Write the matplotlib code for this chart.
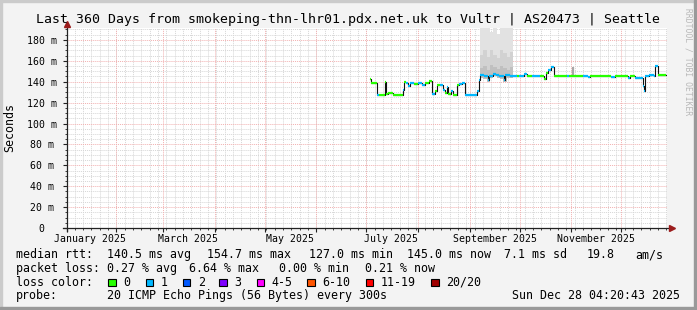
import matplotlib
matplotlib.use("Agg")
import matplotlib.pyplot as plt
import matplotlib.transforms as mtransforms
from matplotlib.patches import Rectangle
import numpy as np
import pandas as pd

W, H = 697, 310
FONT = "DejaVu Sans Mono"

# time window of the graph
start = pd.Timestamp("2025-01-02 04:20:43")
end = pd.Timestamp("2025-12-28 04:20:43")

# median rtt as steps: days since window start, ms, loss bin (0 = 0 lost, 1 = 1 lost)
rtt_day = [182.0, 182.5, 186.2, 187.5, 191.0, 191.6, 193.0, 196.0, 201.6, 202.2,
           203.5, 205.0, 206.0, 208.5, 211.0, 213.0, 215.0, 217.5, 219.4, 220.8,
           222.0, 224.0, 226.0, 227.0, 228.2, 229.0, 230.5, 231.6, 234.0, 235.5,
           237.0, 238.8, 246.4, 247.2, 248.0, 250.5, 252.5, 253.5, 255.5, 257.5,
           259.5, 262.5, 263.2, 266.0, 270.0, 271.5, 274.5, 276.0, 279.0, 282.0,
           284.0, 286.2, 287.3, 288.8, 290.5, 292.3, 300.0, 301.5, 310.0, 312.5,
           314.0, 326.8, 329.0, 336.5, 338.0, 340.8, 345.5, 346.2, 347.0, 349.5,
           352.3, 353.0, 354.5, 359.6]
rtt_ms = [143.0, 138.5, 127.5, 127.5, 140.0, 128.0, 129.0, 127.5, 132.5, 140.0,
          138.5, 135.5, 139.0, 138.0, 139.0, 137.0, 138.5, 141.0, 128.0, 131.0,
          137.0, 136.5, 132.0, 129.0, 135.0, 128.0, 131.0, 127.5, 137.0, 137.5,
          138.5, 127.5, 131.5, 141.5, 146.0, 145.0, 141.5, 145.5, 147.0, 146.0,
          145.0, 141.5, 146.0, 145.5, 145.5, 145.5, 147.0, 145.5, 145.5, 145.0,
          145.5, 143.0, 148.0, 151.0, 154.5, 145.5, 145.5, 145.5, 145.5, 144.5,
          145.5, 144.5, 145.5, 144.0, 145.0, 143.5, 135.5, 131.5, 145.5, 146.5,
          145.5, 155.0, 146.0, 146.0]
rtt_loss = [0, 0, 1, 0, 0, 0, 0, 0, 1, 0,
            1, 1, 1, 0, 1, 1, 0, 0, 1, 0,
            0, 1, 1, 0, 1, 0, 1, 0, 0, 1,
            1, 1, 1, 1, 1, 1, 1, 1, 1, 1,
            1, 1, 1, 1, 0, 1, 1, 0, 1, 1,
            0, 0, 0, 1, 1, 0, 1, 0, 1, 1,
            0, 1, 0, 1, 0, 1, 1, 1, 1, 1,
            1, 1, 0, 0]

# smoke (ping spread) during the noisy weeks in September
smoke_day = [248, 250, 252, 254, 256, 258, 260, 262, 264, 266, 267.5]
smoke_lo = [144, 143, 140, 144, 145, 144, 143, 140, 144, 144]
smoke_dark = [153, 155, 151, 156, 154, 152, 155, 153, 151, 154]
smoke_mid = [166, 170, 164, 170, 166, 163, 170, 167, 164, 168]
smoke_top = [200, 200, 200, 188, 200, 186, 200, 200, 200, 200]

# single smoke spike in October
spike_day = [304.0]
spike_lo = [145.5]
spike_hi = [154.0]

loss_labels = ["0", "1", "2", "3", "4-5", "6-10", "11-19", "20/20"]
loss_colors = ["#26ff00", "#00b8ff", "#0059ff", "#7e00ff", "#ff00ff", "#ff5500", "#ff0000", "#a00000"]

def days(d):
    return start + pd.to_timedelta(np.asarray(d, dtype=float), unit="D")

fig = plt.figure(figsize=(W / 100, H / 100), dpi=100)
fig.patch.set_facecolor("#f3f3f3")

# bevel border
fig.patches.append(Rectangle((0, 1 - 2 / H), 1, 2 / H, transform=fig.transFigure, color="#cbcbcb", zorder=0))
fig.patches.append(Rectangle((0, 0), 2 / W, 1, transform=fig.transFigure, color="#cbcbcb", zorder=0))
fig.patches.append(Rectangle((0, 0), 1, 3 / H, transform=fig.transFigure, color="#999999", zorder=0))
fig.patches.append(Rectangle((1 - 3 / W, 0), 3 / W, 1, transform=fig.transFigure, color="#999999", zorder=0))

x0, x1, ytop, ybot = 66.7, 666.7, 28.0, 228.0
ax = fig.add_axes([x0 / W, 1 - ybot / H, (x1 - x0) / W, (ybot - ytop) / H])
ax.set_facecolor("white")
ymax = (ybot - ytop) / 1.045
ax.set_xlim(start, end)
ax.set_ylim(0, ymax)

# grid
months = pd.date_range("2025-02-01", "2025-12-01", freq="MS")
minor_days = pd.date_range("2025-01-07", end, freq="5D")
for t in minor_days:
    ax.axvline(t, color="#d6d6d6", lw=0.7, ls=(0, (1, 1)), zorder=0)
for v in np.arange(5, ymax, 5):
    if v % 20:
        ax.axhline(v, color="#d6d6d6", lw=0.7, ls=(0, (1, 1)), zorder=0)
for t in months:
    ax.axvline(t, color="#f2b0b0", lw=0.7, ls=(0, (1, 1)), zorder=0.5)
for v in range(20, 200, 20):
    ax.axhline(v, color="#f2b0b0", lw=0.7, ls=(0, (1, 1)), zorder=0.5)

# smoke
sd = days(smoke_day)
ax.fill_between(sd, list(smoke_mid) + [smoke_mid[-1]], list(smoke_top) + [smoke_top[-1]],
                step="post", color="#e2e2e2", lw=0, zorder=1)
ax.fill_between(sd, list(smoke_dark) + [smoke_dark[-1]], list(smoke_mid) + [smoke_mid[-1]],
                step="post", color="#d2d2d2", lw=0, zorder=1)
ax.fill_between(sd, list(smoke_lo) + [smoke_lo[-1]], list(smoke_dark) + [smoke_dark[-1]],
                step="post", color="#c0c0c0", lw=0, zorder=1)
ax.vlines(days(spike_day), spike_lo, spike_hi, color="#a8a8a8", lw=1.6, zorder=1)

# median rtt
rd = days(rtt_day)
ax.step(rd, rtt_ms, where="post", color="#111111", lw=0.8, zorder=2)
ax.hlines(rtt_ms[:-1], rd[:-1], rd[1:], colors=[loss_colors[i] for i in rtt_loss[:-1]],
          lw=1.6, zorder=3)

# axes
for s in ax.spines.values():
    s.set_visible(False)
ax.plot([-0.006, 1.003], [0, 0], transform=ax.transAxes, color="#222222", lw=0.9, clip_on=False, zorder=4)
ax.plot([0, 0], [-0.015, 1.012], transform=ax.transAxes, color="#222222", lw=0.9, clip_on=False, zorder=4)
ax.plot([1.008], [0], transform=ax.transAxes, marker=">", ms=4, color="#9b1c1c", clip_on=False, zorder=5)
ax.plot([0], [1.02], transform=ax.transAxes, marker="^", ms=4, color="#9b1c1c", clip_on=False, zorder=5)

ax.set_xticks(list(months) + [start])
ax.set_xticks(minor_days, minor=True)
ax.set_xticklabels([])
ax.set_yticks(range(0, 181, 20))
ax.set_yticks(np.arange(5, ymax, 5), minor=True)
ax.set_yticklabels(["0"] + ["%d m" % v for v in range(20, 181, 20)],
                   fontfamily=FONT, fontsize=7.1)
for lbl in ax.get_yticklabels():
    lbl.set_horizontalalignment("center")
ax.tick_params(axis="y", which="major", length=3, width=0.8, pad=15, color="#222222")
ax.tick_params(axis="y", which="minor", length=1.5, width=0.6, color="#222222")
ax.tick_params(axis="x", which="major", length=3, width=0.8, color="#222222")
ax.tick_params(axis="x", which="minor", length=1.5, width=0.6, color="#222222")

# month labels centred in the month, every second month
blend = mtransforms.blended_transform_factory(ax.transData, fig.transFigure)
for m in pd.date_range("2025-01-01", "2025-11-01", freq="2MS"):
    ax.text(m + pd.Timedelta(days=15), 1 - 238.5 / H, m.strftime("%B %Y"), transform=blend,
            ha="center", va="center", fontfamily=FONT, fontsize=7.1)

def ftext(x, y, s, **kw):
    kw.setdefault("fontfamily", FONT)
    kw.setdefault("fontsize", 8.4)
    kw.setdefault("va", "center")
    fig.text(x / W, 1 - y / H, s, **kw)

ftext(348.5, 19, "Last 360 Days from smokeping-thn-lhr01.pdx.net.uk to Vultr | AS20473 | Seattle",
      ha="center", fontsize=9.5)
ftext(10, 128, "Seconds", ha="center", rotation=90)
ftext(688, 62, "RRDTOOL / TOBI OETIKER", ha="center", rotation=270, fontsize=5.8, color="#b8b8b8")

row1 = [(16, "median rtt:"), (107.3, "140.5 ms avg"), (207.3, "154.7 ms max"), (309, "127.0 ms min"),
        (407.3, "145.0 ms now"), (504, "7.1 ms sd"), (586.7, "19.8"), (635.7, "am/s")]
row2 = [(16, "packet loss:"), (107.3, "0.27 % avg"), (189.3, "6.64 % max"), (279.3, "0.00 % min"),
        (365, "0.21 % now")]
for x, s in row1:
    ftext(x, 254.7, s)
for x, s in row2:
    ftext(x, 268.3, s)

ftext(16, 282.3, "loss color:")
box_x = [108.3, 145.7, 182.7, 219.3, 256.7, 307.3, 365.7, 431.0]
for bx, lab, col in zip(box_x, loss_labels, loss_colors):
    fig.patches.append(Rectangle((bx / W, 1 - 286.0 / H), 7.5 / W, 7.5 / H, transform=fig.transFigure,
                                 facecolor=col, edgecolor="black", lw=0.8))
    ftext(bx + 15, 282.3, lab)

ftext(16, 295.7, "probe:")
ftext(107.3, 295.7, "20 ICMP Echo Pings (56 Bytes) every 300s")
ftext(680, 295.7, "Sun Dec 28 04:20:43 2025", ha="right")

fig.savefig("out.png", dpi=100, facecolor=fig.get_facecolor())
